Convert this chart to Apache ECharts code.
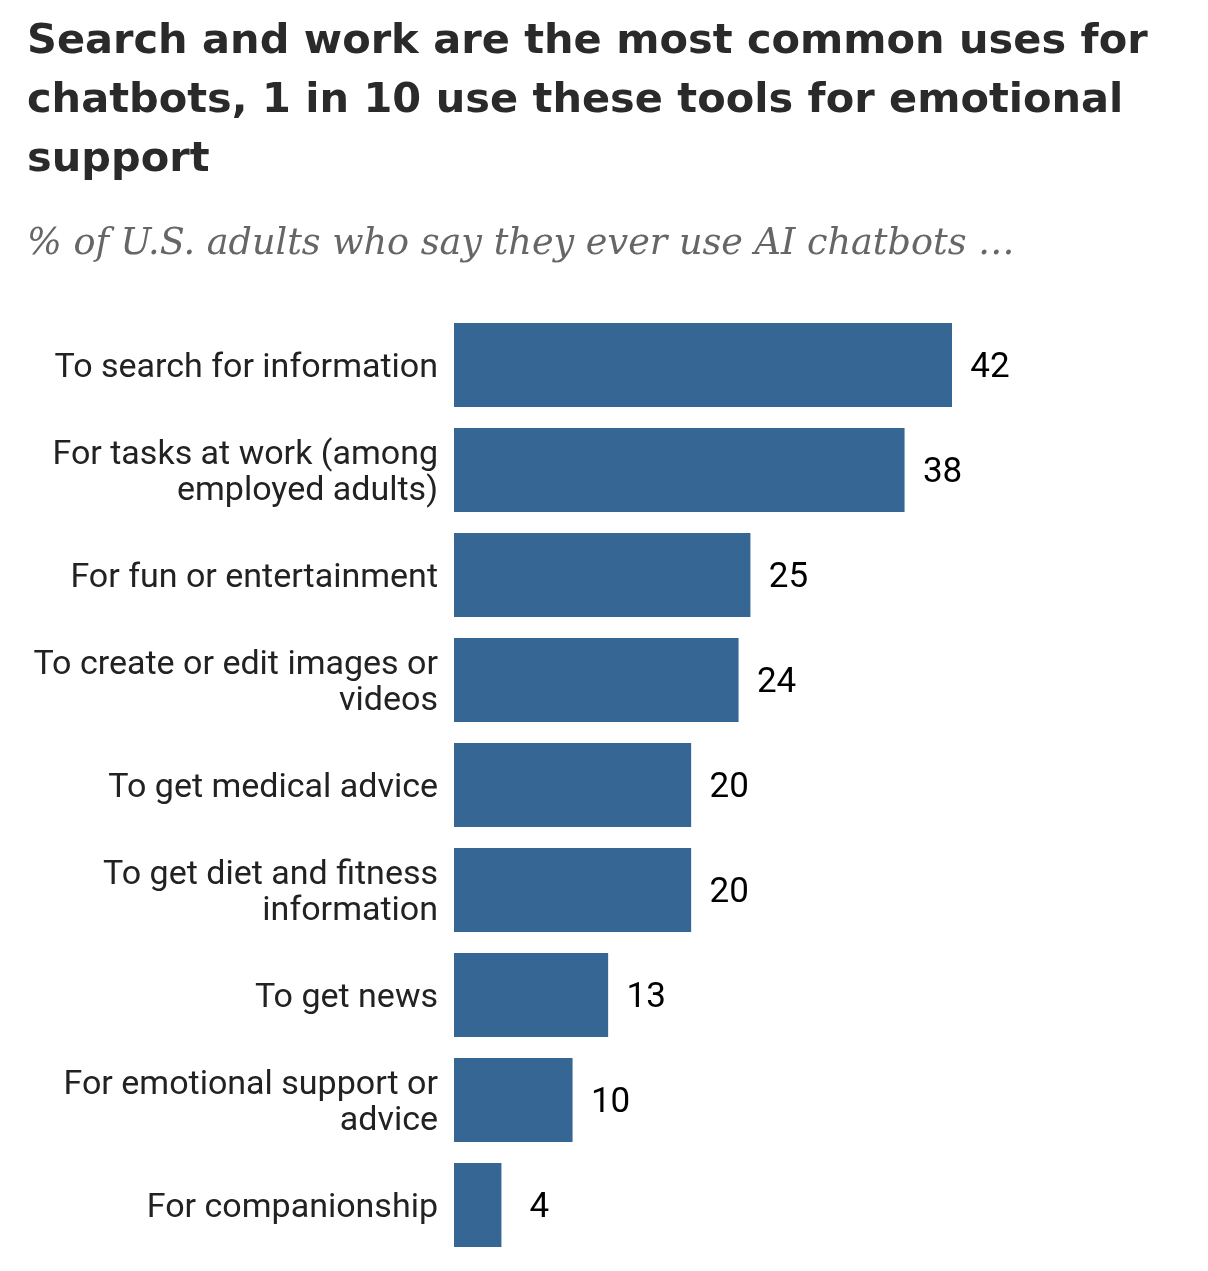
<!DOCTYPE html>
<html>
<head>
<meta charset="utf-8">
<style>
  html, body { margin: 0; padding: 0; background: #fff; }
  #chart { width: 1208px; height: 1271px; }
</style>
<script src="https://cdn.jsdelivr.net/npm/echarts@6/dist/echarts.min.js"></script>
</head>
<body>
<div id="chart"></div>
<script>
// chart data, top to bottom as drawn
var categories = [
  'To search for information',
  'For tasks at work (among\nemployed adults)',
  'For fun or entertainment',
  'To create or edit images or\nvideos',
  'To get medical advice',
  'To get diet and fitness\ninformation',
  'To get news',
  'For emotional support or\nadvice',
  'For companionship'
];
var values = [42, 38, 25, 24, 20, 20, 13, 10, 4];

var titleText = 'Search and work are the most common uses for\nchatbots, 1 in 10 use these tools for emotional\nsupport';
var subtitleText = '% of U.S. adults who say they ever use AI chatbots \u2026';

var BAR = '#366694';
var SANS = '"Roboto", "Liberation Sans", sans-serif';

var chart = echarts.init(document.getElementById('chart'));
chart.setOption({
  animation: false,
  title: [
    {
      text: titleText,
      left: 22, top: 8,
      textStyle: { fontFamily: '"DejaVu Sans", sans-serif', fontWeight: 'bold', fontSize: 41.5, lineHeight: 59, color: '#2a2a2a' }
    },
    {
      text: subtitleText,
      left: 22, top: 221,
      textStyle: { fontFamily: '"DejaVu Serif", Georgia, serif', fontStyle: 'italic', fontWeight: 'normal', fontSize: 36.6, color: '#666666' }
    }
  ],
  grid: { left: 454, right: 256, top: 312.5, bottom: 13.5, containLabel: false },
  xAxis: {
    type: 'value', min: 0, max: 42,
    show: false
  },
  yAxis: {
    type: 'category',
    inverse: true,
    data: categories,
    axisLine: { show: false },
    axisTick: { show: false },
    splitLine: { show: false },
    axisLabel: {
      margin: 16,
      align: 'right',
      formatter: function (v) {
        return v.split('\n').map(function (s) { return '{t|' + s + '}'; }).join('\n');
      },
      rich: {
        t: {
          fontFamily: SANS,
          fontSize: 34,
          lineHeight: 36,
          color: '#222',
          align: 'right',
          padding: [6, 0, 0, 0]
        }
      }
    }
  },
  series: [{
    type: 'bar',
    data: values,
    barCategoryGap: '20%',
    itemStyle: { color: BAR },
    label: {
      show: true,
      position: 'right',
      distance: 38,
      align: 'center',
      offset: [0, 3],
      fontFamily: SANS,
      fontSize: 35,
      color: '#000'
    }
  }]
});
</script>
</body>
</html>
